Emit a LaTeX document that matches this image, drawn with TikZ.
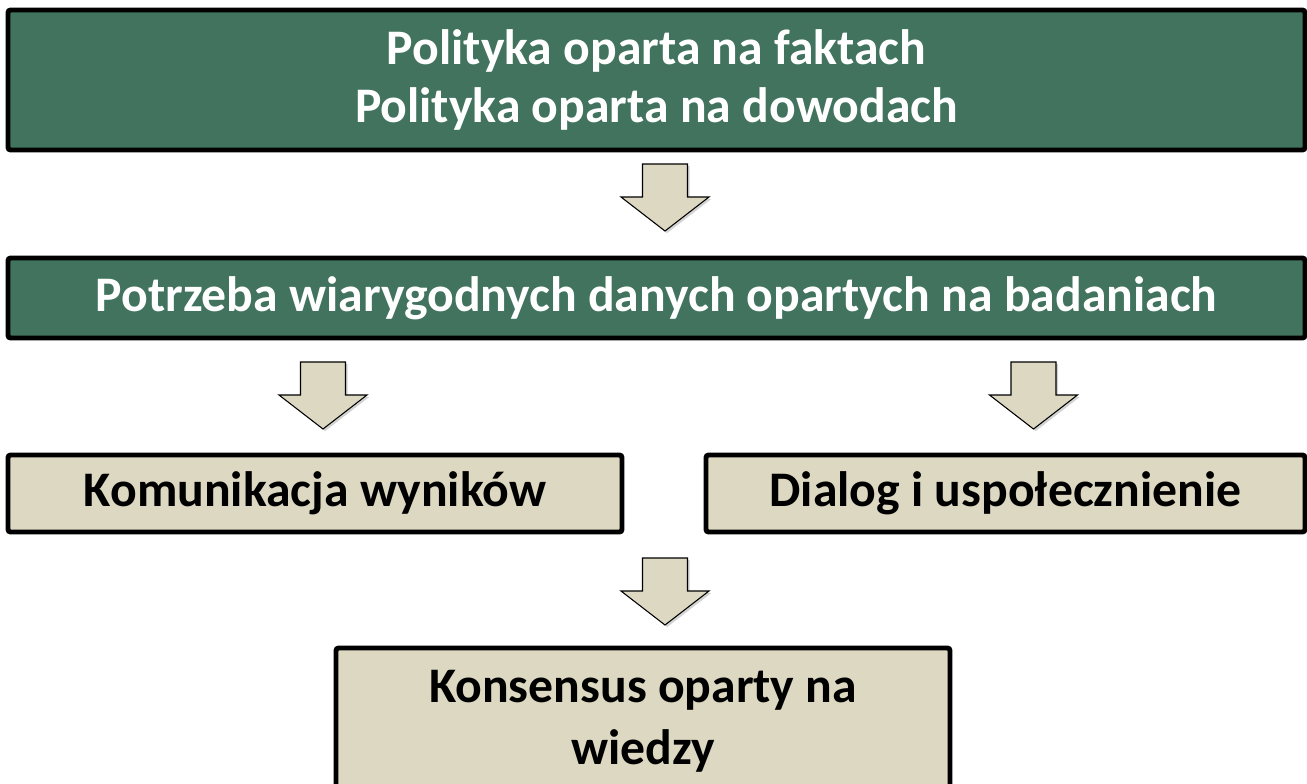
\documentclass[tikz,border=0pt]{standalone}
\usepackage{fontspec}
\setmainfont{Carlito}
\usetikzlibrary{shadows}
\definecolor{boxgreen}{HTML}{41735E}
\definecolor{boxbeige}{HTML}{DDD8C2}
\tikzset{
  greenbox/.style={draw=black, line width=2.8pt, rounded corners=1.5pt, fill=boxgreen, text=white,
    font=\fontsize{28.3}{33}\selectfont\bfseries, align=center, inner sep=0pt,
    drop shadow={shadow xshift=0.8pt, shadow yshift=-0.8pt, opacity=0.3}},
  beigebox/.style={greenbox, fill=boxbeige, text=black},
  blockarrow/.style={draw=black, line width=0.6pt, fill=boxbeige,
    drop shadow={shadow xshift=1.2pt, shadow yshift=-1.2pt, opacity=0.35}},
  downarrow/.pic={
    \draw[blockarrow] (-0.45,0) -- (0.45,0) -- (0.45,-0.66) -- (0.88,-0.66) -- (0,-1.34) -- (-0.88,-0.66) -- (-0.45,-0.66) -- cycle;
  }
}
\begin{document}
\begin{tikzpicture}
    \useasboundingbox (0,0) rectangle (26.14,-15.66);
    \clip (0,0) rectangle (26.14,-15.66);
    \node[greenbox, minimum width=25.94cm, minimum height=2.8cm] (fakty) at (13.13,-1.6) {Polityka oparta na faktach\\Polityka oparta na dowodach};
    \pic at (13.3,-3.28) {downarrow};
    \node[greenbox, minimum width=25.94cm, minimum height=1.6cm] (dane) at (13.13,-5.96) {Potrzeba wiarygodnych danych opartych na badaniach};
    \pic at (6.46,-7.24) {downarrow};
    \pic at (20.67,-7.24) {downarrow};
    \node[beigebox, minimum width=12.28cm, minimum height=1.54cm] (komunikacja) at (6.3,-9.87) {Komunikacja wyników};
    \node[beigebox, minimum width=11.98cm, minimum height=1.54cm] (dialog) at (20.11,-9.87) {Dialog i uspołecznienie};
    \pic at (13.3,-11.16) {downarrow};
    \node[beigebox, minimum width=12.28cm, minimum height=2.94cm] (konsensus) at (12.86,-14.43) {Konsensus oparty na\\[2pt]wiedzy};
\end{tikzpicture}
\end{document}
